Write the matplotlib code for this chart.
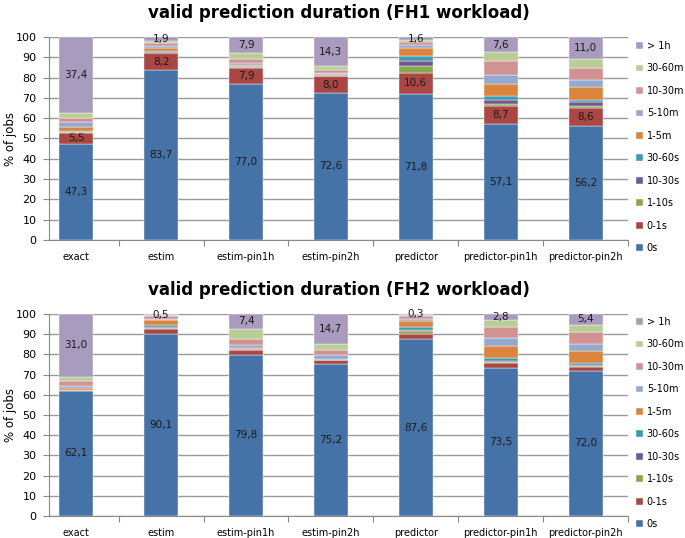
import matplotlib.pyplot as plt
import numpy as np

categories = ["exact", "estim", "estim-pin1h", "estim-pin2h", "predictor", "predictor-pin1h", "predictor-pin2h"]
bins = ["0s", "0-1s", "1-10s", "10-30s", "30-60s", "1-5m", "5-10m", "10-30m", "30-60m", "> 1h"]
colors = ["#4572A7", "#AA4643", "#89A54E", "#71588F", "#4198AF",
          "#DB843D", "#93A9CF", "#D19392", "#B9CD96", "#A99BBD"]

# rows = bins, columns = categories
fh1 = [
    [47.3, 83.7, 77.0, 72.6, 71.8, 57.1, 56.2],
    [5.5, 8.2, 7.9, 8.0, 10.6, 8.7, 8.6],
    [0.3, 0.4, 0.3, 0.2, 3.1, 1.3, 1.3],
    [0.3, 0.5, 0.4, 0.2, 2.8, 2.0, 1.8],
    [0.3, 0.5, 0.3, 0.2, 2.3, 1.6, 1.3],
    [2.0, 1.3, 0.5, 0.5, 3.8, 6.2, 6.4],
    [2.5, 0.8, 0.8, 0.4, 1.5, 4.6, 3.4],
    [2.0, 1.5, 1.8, 1.8, 1.5, 6.8, 5.6],
    [2.4, 1.2, 3.1, 1.8, 1.0, 4.1, 4.4],
    [37.4, 1.9, 7.9, 14.3, 1.6, 7.6, 11.0],
]
fh2 = [
    [62.1, 90.1, 79.8, 75.2, 87.6, 73.5, 72.0],
    [0.2, 2.6, 2.3, 1.8, 2.5, 2.0, 1.9],
    [0.1, 0.6, 0.3, 0.2, 1.3, 0.7, 0.5],
    [0.1, 0.5, 0.2, 0.2, 0.7, 0.7, 0.5],
    [0.1, 1.0, 0.2, 0.2, 1.3, 1.5, 0.8],
    [1.0, 2.0, 0.5, 0.3, 3.3, 5.9, 5.8],
    [0.8, 0.8, 1.3, 1.6, 0.8, 3.6, 3.8],
    [2.3, 1.2, 3.0, 2.8, 1.5, 5.6, 5.8],
    [2.3, 0.7, 5.0, 3.0, 0.7, 3.7, 3.5],
    [31.0, 0.5, 7.4, 14.7, 0.3, 2.8, 5.4],
]
fh1_labelled = [0, 1, 9]
fh2_labelled = [0, 9]

W, H = 685, 538
fig = plt.figure(figsize=(W / 100, H / 100), dpi=100)


def draw(ax, data, labelled, title):
    x = np.arange(len(categories))
    bottom = np.zeros(len(categories))
    bars = []
    for i, row in enumerate(data):
        row = np.array(row)
        b = ax.bar(x, row, 0.4, bottom=bottom, color=colors[i], label=bins[i],
                   edgecolor="white", linewidth=0.3, zorder=3)
        bars.append(b)
        if i in labelled:
            labels = [f"{v:.1f}".replace(".", ",") for v in row]
            ax.bar_label(b, labels=labels, label_type="center", fontsize=7.5, color="#1a1a1a")
        bottom += row
    ax.set_xlim(-0.32, 6.5)
    ax.set_ylim(0, 100)
    ax.set_yticks(range(0, 101, 10))
    ax.set_xticks(np.arange(0.5, 6.6, 1))
    ax.set_xticklabels([])
    ax.set_xticks(x, minor=True)
    ax.set_xticklabels(categories, minor=True, fontsize=7)
    ax.tick_params(axis="x", which="major", length=4, color="#888888", direction="out")
    ax.tick_params(axis="x", which="minor", length=0, pad=9)
    ax.tick_params(axis="y", length=4, color="#888888", labelsize=8, pad=5)
    ax.grid(axis="y", color="#999999", linewidth=1, zorder=0)
    for s in ["top", "right"]:
        ax.spines[s].set_visible(False)
    ax.spines["left"].set_color("#888888")
    ax.spines["bottom"].set_color("#888888")
    ax.set_ylabel("% of jobs", fontsize=8.5)
    ax.yaxis.set_label_coords(-0.056, 0.5)
    ax.set_title(title, fontsize=12, fontweight="bold", pad=14)
    return bars


left = 49 / W
width = (628 - 49) / W
ax1 = fig.add_axes([left, 1 - 240 / H, width, 203 / H])
ax2 = fig.add_axes([left, 1 - 516 / H, width, 202 / H])
bars1 = draw(ax1, fh1, fh1_labelled, "valid prediction duration (FH1 workload)")
bars2 = draw(ax2, fh2, fh2_labelled, "valid prediction duration (FH2 workload)")

for ax, bars, top in [(ax1, bars1, 41), (ax2, bars2, 317)]:
    fig.legend(bars[::-1], bins[::-1], loc="upper left", bbox_to_anchor=(636 / W, 1 - top / H),
               frameon=False, fontsize=7, handlelength=0.7, handleheight=0.7,
               handletextpad=0.4, labelspacing=1.28, borderpad=0, borderaxespad=0)

plt.savefig("out.png", dpi=100)
